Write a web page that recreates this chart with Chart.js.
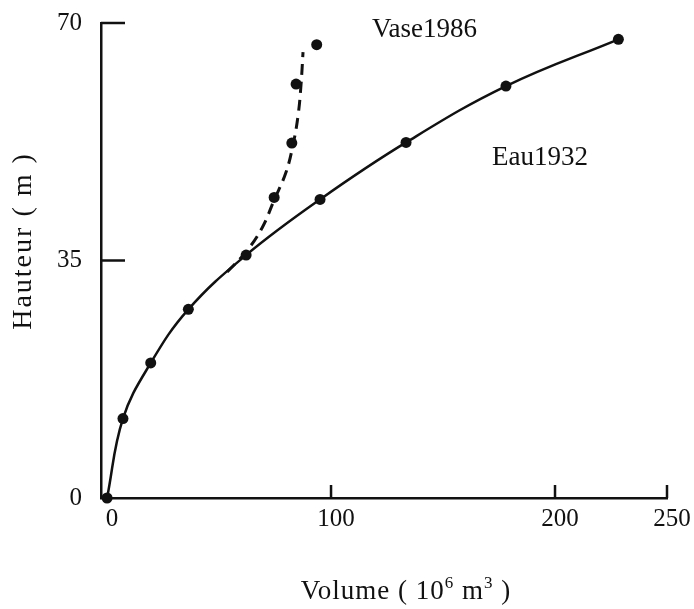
<!DOCTYPE html>
<html><head><meta charset="utf-8">
<script src="https://cdn.jsdelivr.net/npm/chart.js@4/dist/chart.umd.min.js"></script>
<style>html,body{margin:0;padding:0;background:#fff}#wrap{width:694px;height:609px}</style>
</head><body><div id="wrap"><canvas id="c" width="694" height="609"></canvas></div>
<script>
// ---- data ----
const eauVolume  = [0, 7.1, 19.5, 36.3, 62.1, 95.1, 133.5, 178.1, 228.3];
const eauHauteur = [0, 11.7, 19.9, 27.8, 35.8, 44.0, 52.4, 60.7, 67.6];
const vaseVolume  = [74.6, 82.5, 84.4, 93.6];
const vaseHauteur = [44.3, 52.3, 61.0, 66.8];
const vaseCurveVolume  = [53.6, 62.1, 69.2, 74.6, 79.9, 83.0, 85.3, 86.6, 87.5];
const vaseCurveHauteur = [33.3, 36.3, 39.8, 43.9, 48.0, 52.0, 56.4, 60.9, 65.7];
const xTicks = [0, 100, 200, 250];
const yTicks = [0, 35, 70];
const seriesLabels = ['Eau1932', 'Vase1986'];
const xTitle = ['Volume ( 10', '6', ' m', '3', ' )'];
const yTitle = 'Hauteur ( m )';

const INK = '#111';
const SERIF = "'Liberation Serif', 'Times New Roman', serif";
Chart.defaults.font.family = SERIF;
Chart.defaults.color = INK;

const pts = (xs, ys) => xs.map((x, i) => ({x, y: ys[i]}));

const annot = {
  id: 'annot',
  afterDraw(chart) {
    const {ctx, chartArea: a} = chart;
    const xs = chart.scales.x, ys = chart.scales.y;
    ctx.save();
    ctx.strokeStyle = INK; ctx.lineWidth = 2.5; ctx.lineCap = 'butt';
    // inward tick marks
    yTicks.filter(v => v !== 0).forEach(v => {
      const py = ys.getPixelForValue(v);
      ctx.beginPath(); ctx.moveTo(a.left, py); ctx.lineTo(a.left + 24, py); ctx.stroke();
    });
    xTicks.filter(v => v !== 0).forEach(v => {
      const px = xs.getPixelForValue(v);
      ctx.beginPath(); ctx.moveTo(px, a.bottom); ctx.lineTo(px, a.bottom - 13); ctx.stroke();
    });
    // series labels
    ctx.fillStyle = INK;
    ctx.font = '27px ' + SERIF;
    ctx.textAlign = 'left'; ctx.textBaseline = 'alphabetic';
    ctx.fillText(seriesLabels[1], xs.getPixelForValue(118.3), ys.getPixelForValue(67.9));
    ctx.fillText(seriesLabels[0], xs.getPixelForValue(171.9), ys.getPixelForValue(49.1));
    // x title with superscripts
    const big = '27px ' + SERIF, small = '17px ' + SERIF;
    ctx.letterSpacing = '1px';
    const parts = xTitle.map((t, i) => ({t, f: i % 2 ? small : big, sup: i % 2 === 1}));
    let total = 0;
    parts.forEach(p => { ctx.font = p.f; p.w = ctx.measureText(p.t).width; total += p.w; });
    let cx = 406 - total / 2;
    const base = 599;
    parts.forEach(p => { ctx.font = p.f; ctx.fillText(p.t, cx, p.sup ? base - 11 : base); cx += p.w; });
    // y title
    ctx.letterSpacing = '2px';
    ctx.translate(24, 241);
    ctx.rotate(-Math.PI / 2);
    ctx.font = '28px ' + SERIF;
    ctx.textAlign = 'center'; ctx.textBaseline = 'middle';
    ctx.fillText(yTitle, 0, 0);
    ctx.restore();
  }
};

new Chart(document.getElementById('c'), {
  type: 'scatter',
  data: {
    datasets: [
      {
        label: seriesLabels[0],
        data: pts(eauVolume, eauHauteur),
        showLine: true,
        borderColor: INK, borderWidth: 2.5,
        pointRadius: 5.5, pointBackgroundColor: INK, pointBorderWidth: 0,
        tension: 0.4,
        clip: false
      },
      {
        label: seriesLabels[1] + ' courbe',
        data: pts(vaseCurveVolume, vaseCurveHauteur),
        showLine: true,
        borderColor: INK, borderWidth: 3, borderDash: [11, 7],
        pointRadius: 0,
        tension: 0.4,
        clip: false
      },
      {
        label: seriesLabels[1],
        data: pts(vaseVolume, vaseHauteur),
        showLine: false,
        pointRadius: 5.5, pointBackgroundColor: INK, pointBorderWidth: 0,
        clip: false
      }
    ]
  },
  options: {
    responsive: false,
    animation: false,
    devicePixelRatio: 1,
    layout: {padding: {top: 23, right: 27, left: 0, bottom: 0}},
    plugins: {legend: {display: false}, tooltip: {enabled: false}},
    scales: {
      x: {
        type: 'linear', min: -2.7, max: 250,
        grid: {display: false, drawTicks: false},
        border: {display: true, color: INK, width: 2.5},
        afterBuildTicks: s => { s.ticks = xTicks.map(v => ({value: v})); },
        afterFit: s => { s.height = 111; s.paddingLeft = 0; s.paddingRight = 0; },
        ticks: {font: {size: 25}, color: INK, padding: 6, labelOffset: 5, maxRotation: 0, autoSkip: false}
      },
      y: {
        type: 'linear', min: 0, max: 70,
        grid: {display: false, drawTicks: false},
        border: {display: true, color: INK, width: 2.5},
        afterBuildTicks: s => { s.ticks = yTicks.map(v => ({value: v})); },
        afterFit: s => { s.width = 101; s.paddingTop = 0; s.paddingBottom = 0; },
        ticks: {font: {size: 25}, color: INK, padding: 19, autoSkip: false}
      }
    }
  },
  plugins: [annot]
});
</script>
</body></html>
